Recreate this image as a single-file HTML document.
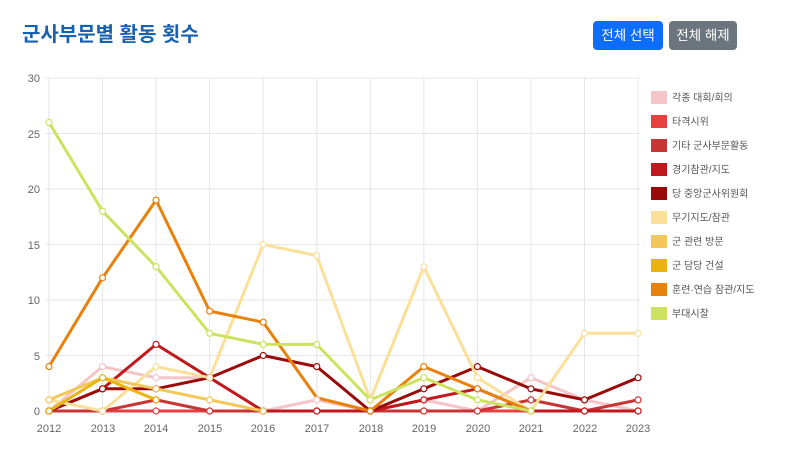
<!DOCTYPE html>
<html><head><meta charset="utf-8">
<style>
body{margin:0;width:800px;height:459px;background:#fff;font-family:"Liberation Sans","Noto Sans CJK KR",sans-serif;overflow:hidden;position:relative}
h1{position:absolute;left:22px;top:18px;margin:0;font-size:20px;color:#1762b0;font-weight:bold}
.btn{position:absolute;top:21px;height:29px;line-height:29px;color:#fff;font-size:13.5px;text-align:center;border-radius:4px}
</style></head><body>
<h1>군사부문별 활동 횟수</h1>
<div class="btn" style="left:593px;width:70px;background:#0d6efd">전체 선택</div>
<div class="btn" style="left:669px;width:68px;background:#6c757d">전체 해제</div>
<svg id="s" width="800" height="459" style="position:absolute;left:0;top:0" font-family="Liberation Sans, Noto Sans CJK KR, sans-serif">
<g font-size="11" fill="#666" text-anchor="end">
<text x="40" y="415">0</text><text x="40" y="360">5</text><text x="40" y="304">10</text>
<text x="40" y="249">15</text><text x="40" y="193">20</text><text x="40" y="138">25</text><text x="40" y="82">30</text>
</g>
<g font-size="11" fill="#666" text-anchor="middle">
<text x="49" y="432">2012</text><text x="103" y="432">2013</text><text x="156" y="432">2014</text><text x="210" y="432">2015</text>
<text x="263" y="432">2016</text><text x="317" y="432">2017</text><text x="371" y="432">2018</text><text x="424" y="432">2019</text>
<text x="478" y="432">2020</text><text x="531" y="432">2021</text><text x="585" y="432">2022</text><text x="638" y="432">2023</text>
</g>
<g font-size="10" fill="#555">
<text x="672" y="101">각종 대회/회의</text><text x="672" y="125">타격시위</text><text x="672" y="149">기타 군사부문활동</text>
<text x="672" y="173">경기참관/지도</text><text x="672" y="197">당 중앙군사위원회</text><text x="672" y="221">무기지도/참관</text>
<text x="672" y="245">군 관련 방문</text><text x="672" y="269">군 담당 건설</text><text x="672" y="293">훈련·연습 참관/지도</text>
<text x="672" y="317">부대시찰</text>
</g>
<g id="g"></g>
</svg>
<script>
var ns="http://www.w3.org/2000/svg",g=document.getElementById('g');
function el(t,a){var e=document.createElementNS(ns,t);for(var k in a)e.setAttribute(k,a[k]);g.appendChild(e);return e}
function X(i){return 49+i*53.55}function Y(v){return 411-v*11.1}
for(var v=0;v<=30;v+=5)el('line',{x1:45,x2:640,y1:Y(v),y2:Y(v),stroke:'#e6e6e6'});
for(var i=0;i<12;i++)el('line',{x1:X(i),x2:X(i),y1:78,y2:415,stroke:'#e6e6e6'});
var S=[
['#f5c5c8',[0,4,3,3,0,1,0,1,0,3,1,0]],
['#e84040',[0,0,0,0,0,0,0,0,0,0,0,0]],
['#c93535',[0,0,1,0,0,0,0,0,0,1,0,1]],
['#c0181c',[0,2,6,3,0,0,0,1,2,0,0,0]],
['#9a0a0a',[0,2,2,3,5,4,0,2,4,2,1,3]],
['#fbe09a',[1,0,4,3,15,14,1,13,3,0,7,7]],
['#f3c85a',[1,3,2,1,0,null,null,null,null,null,null,null]],
['#e9b310',[0,3,1,null,null,null,null,null,null,null,null,null]],
['#e8820c',[4,12,19,9,8,1.2,0,4,2,0,null,null]],
['#cde35f',[26,18,13,7,6,6,1,3,1,0,null,null]]];
S.forEach(function(s,k){
 el('rect',{x:651,y:91+k*24,width:16,height:13,fill:s[0]});
 var p=[];s[1].forEach(function(v,i){if(v!==null)p.push(X(i)+','+Y(v))});
 el('polyline',{points:p.join(' '),fill:'none',stroke:s[0],'stroke-width':3,'stroke-linejoin':'round'});
});
S.forEach(function(s){s[1].forEach(function(v,i){if(v!==null&&v!==1.2)el('circle',{cx:X(i),cy:Y(v),r:3,fill:'#fff',stroke:s[0],'stroke-width':1.2})})});
</script>
</body></html>
